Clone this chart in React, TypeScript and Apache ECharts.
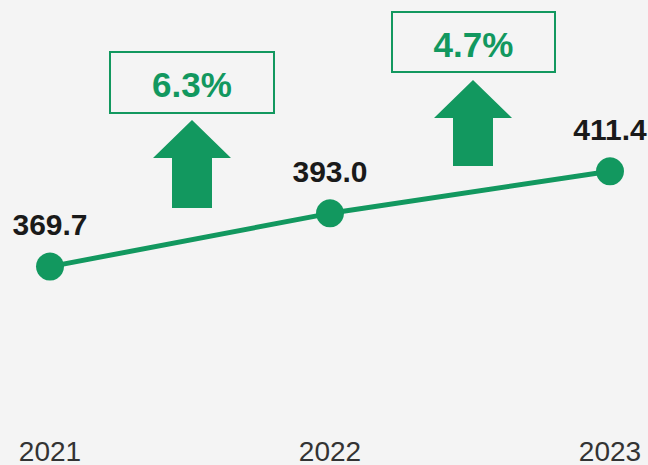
import React, { useEffect, useRef } from "react";
import * as echarts from "echarts";

const years = ["2021", "2022", "2023"];
const values = [369.7, 393.0, 411.4];
const growth = ["6.3%", "4.7%"];

const GREEN = "#12985f";

function arrow(cx: number, tipY: number, wingY: number, bottomY: number) {
  return {
    type: "polygon",
    shape: {
      points: [
        [cx, tipY],
        [cx + 39, wingY],
        [cx + 20, wingY],
        [cx + 20, bottomY],
        [cx - 20, bottomY],
        [cx - 20, wingY],
        [cx - 39, wingY],
      ],
    },
    style: { fill: GREEN },
    silent: true,
  };
}

function box(x: number, y: number, w: number, h: number, text: string) {
  return [
    {
      type: "rect",
      shape: { x, y, width: w, height: h },
      style: { fill: "none", stroke: GREEN, lineWidth: 2 },
      silent: true,
    },
    {
      type: "text",
      x: x + w / 2,
      y: y + h / 2 + 2,
      style: {
        text,
        fill: GREEN,
        font: "bold 35px 'Liberation Sans', Arial, sans-serif",
        align: "center",
        verticalAlign: "middle",
      },
      silent: true,
    },
  ];
}

export default function App() {
  const ref = useRef<HTMLDivElement>(null);
  useEffect(() => {
    document.body.style.margin = "0";
    const chart = echarts.init(ref.current!, null, { renderer: "svg" });
    chart.setOption({
      animation: false,
      backgroundColor: "#f4f4f4",
      grid: { left: 50, right: 38, top: 83, height: 345 },
      xAxis: {
        type: "category",
        data: years,
        boundaryGap: false,
        axisLine: { show: false },
        axisTick: { show: false },
        axisLabel: {
          color: "#333",
          fontSize: 28,
          fontFamily: "'Liberation Sans', Arial, sans-serif",
          margin: 11,
        },
      },
      yAxis: {
        type: "value",
        min: 300,
        max: 450,
        show: false,
        splitLine: { show: false },
      },
      series: [
        {
          type: "line",
          data: values,
          symbol: "circle",
          symbolSize: 28,
          lineStyle: { color: GREEN, width: 5 },
          itemStyle: { color: GREEN },
          label: {
            show: true,
            position: "top",
            distance: 13,
            color: "#1a1a1a",
            fontSize: 30,
            fontWeight: "bold",
            fontFamily: "'Liberation Sans', Arial, sans-serif",
            formatter: (p: any) => Number(p.value).toFixed(1),
          },
        },
      ],
      graphic: [
        ...box(110, 52, 164, 61, growth[0]),
        arrow(192, 120, 158, 208),
        ...box(392, 12, 163, 60, growth[1]),
        arrow(473, 80, 118, 166),
      ],
    });
    return () => chart.dispose();
  }, []);
  return <div ref={ref} style={{ width: 648, height: 465 }} />;
}
